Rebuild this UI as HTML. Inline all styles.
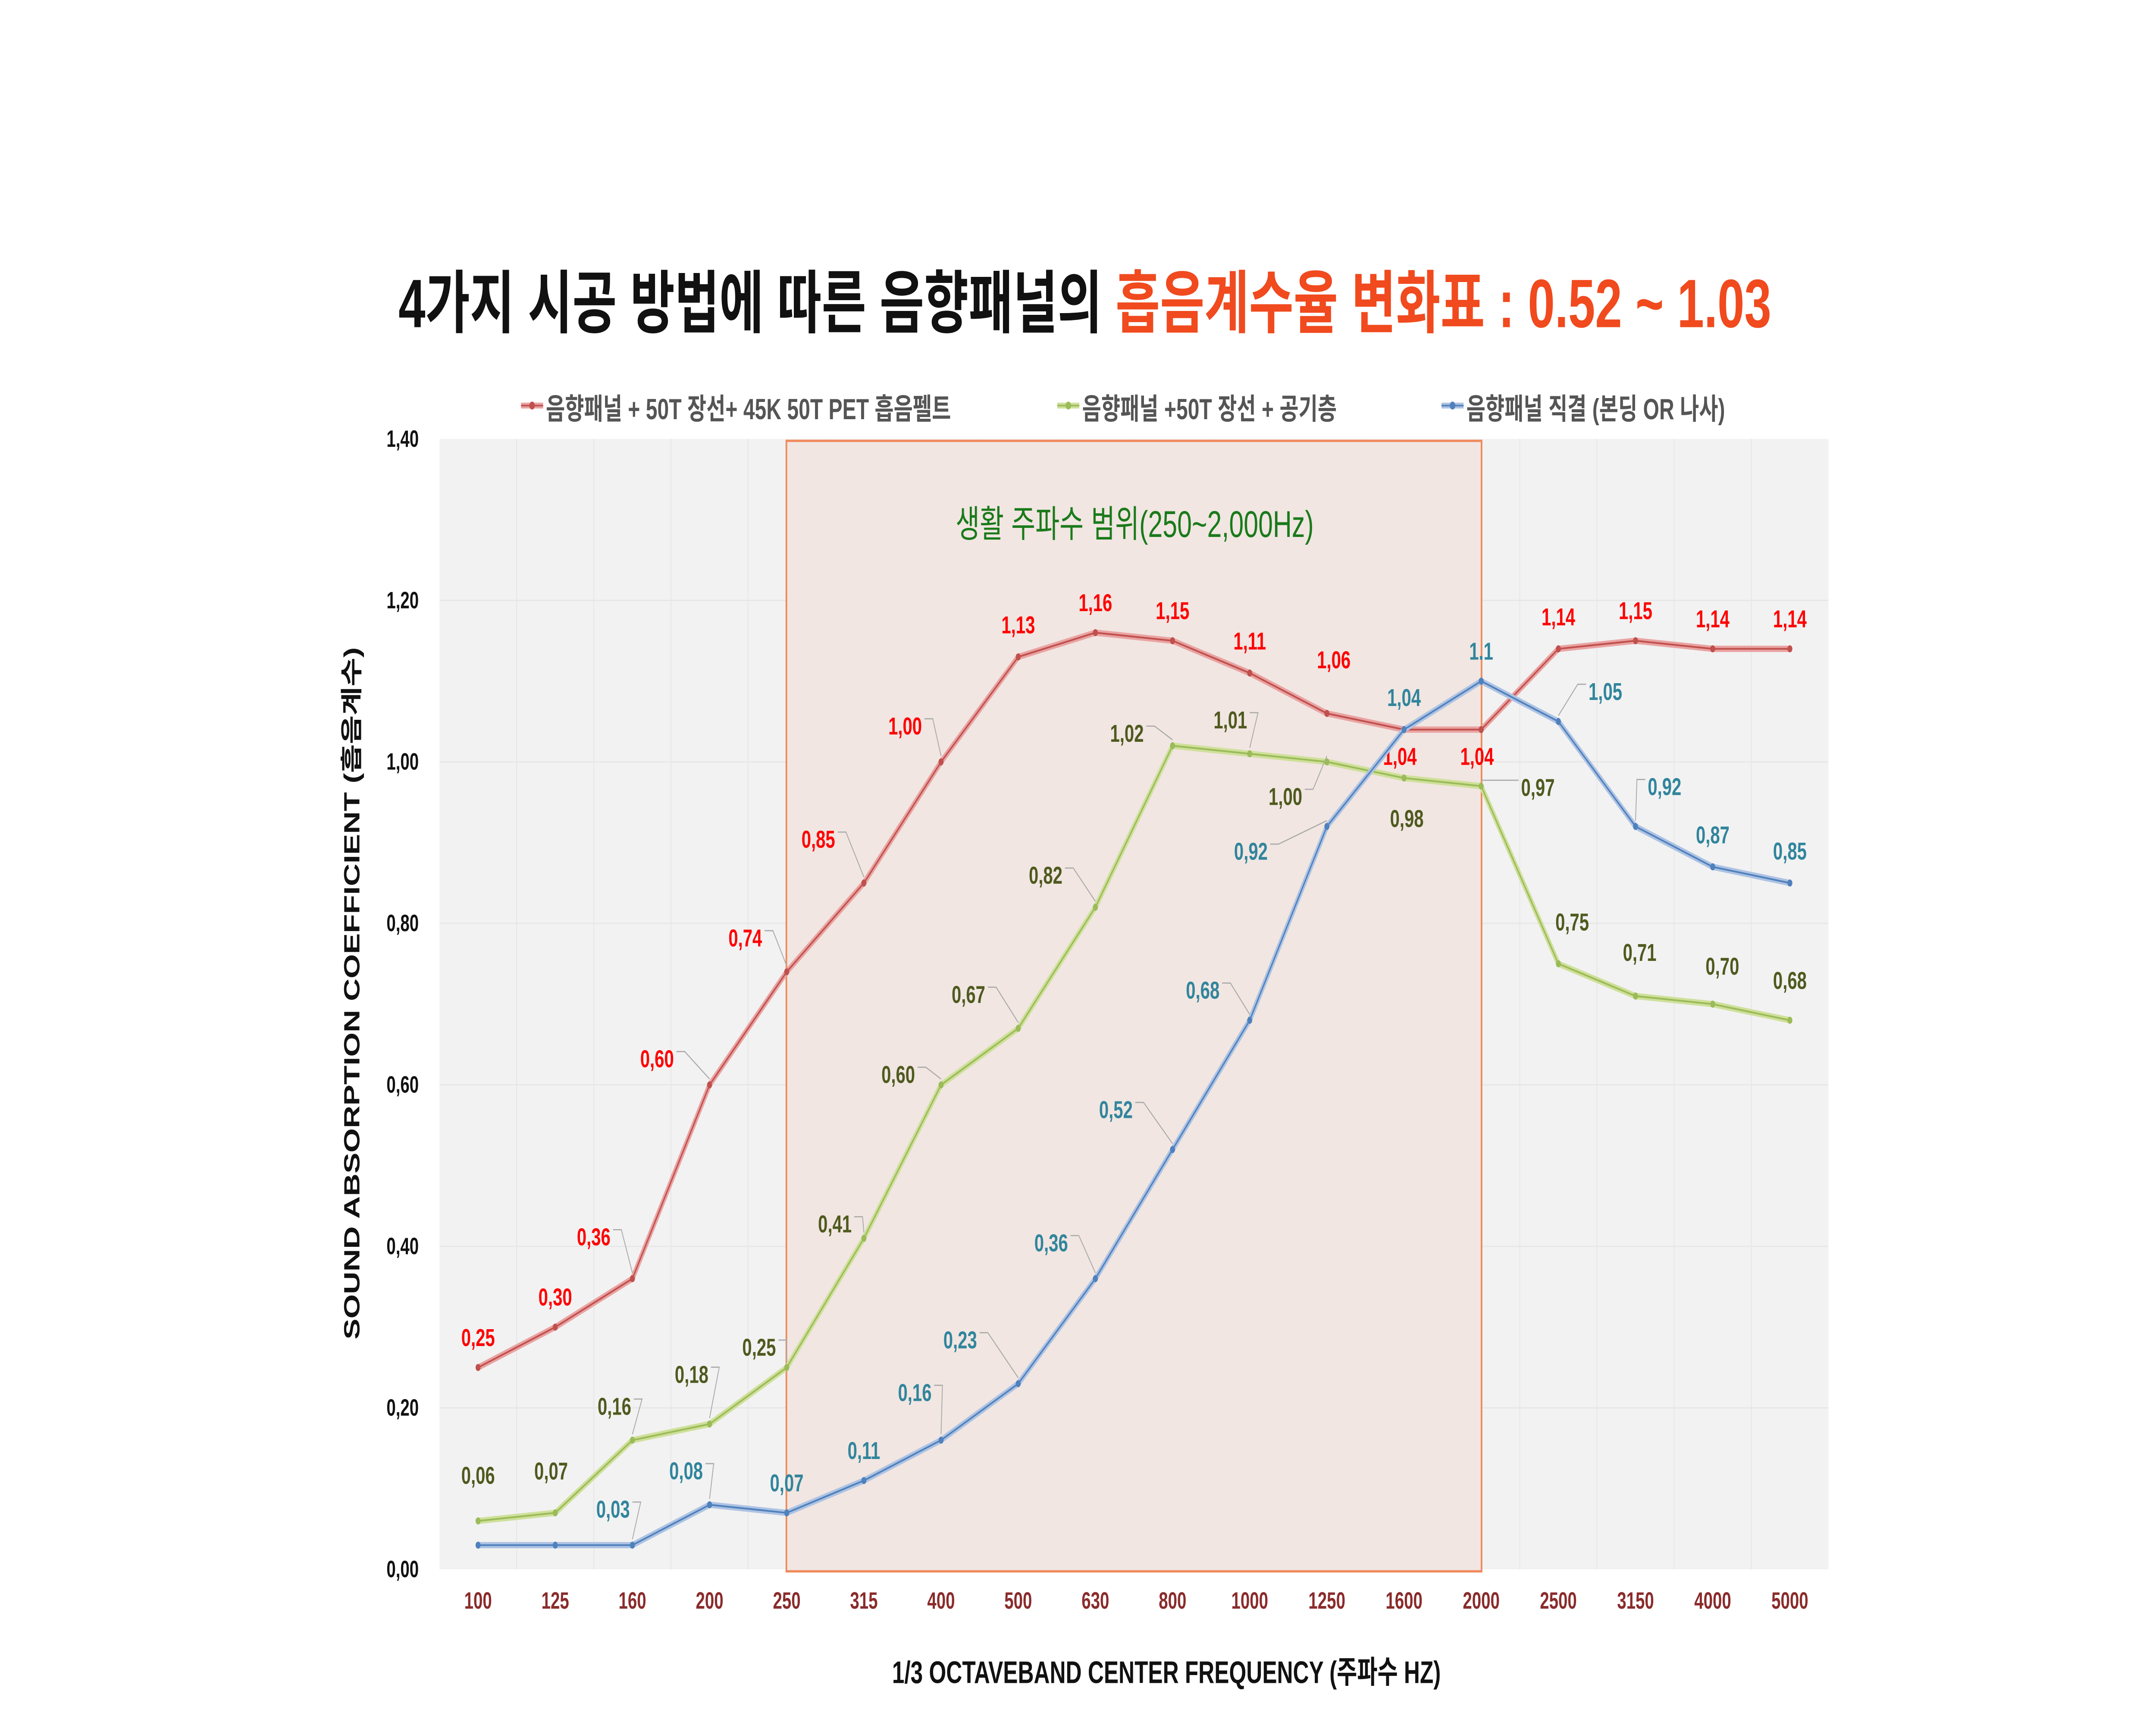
<!DOCTYPE html>
<html><head><meta charset="utf-8"><style>
html,body{margin:0;padding:0;background:#fff;overflow:hidden;width:100%;height:100%;}
svg{display:block;position:absolute;left:0;top:0;width:100vw;height:100vh;}
text{font-family:"Liberation Sans","Noto Sans CJK KR",sans-serif;}
</style></head><body>
<svg id="chart" viewBox="0 0 1560 884" preserveAspectRatio="none" xmlns="http://www.w3.org/2000/svg">
<rect x="0" y="0" width="1560" height="884" fill="#fff"/>
<text x="785" y="167" text-anchor="middle" font-size="35" font-weight="bold" fill="#111">4가지 시공 방법에 따른 음향패널의 <tspan fill="#f04a1e">흡음계수율 변화표 : 0.52 ~ 1.03</tspan></text>
<rect x="318" y="224" width="1005" height="577" fill="#f2f2f2"/>
<g id="grid"></g>
<rect x="569" y="225" width="503" height="577" fill="#f1e6e2" stroke="#f08a5d" stroke-width="1.2"/>
<text x="821" y="274" text-anchor="middle" font-size="19" fill="#1a7a1a">생활 주파수 범위(250~2,000Hz)</text>
<g id="axes"></g>
<g id="series"></g>
<g id="legend"></g>
<text transform="translate(260,507) rotate(-90)" text-anchor="middle" font-size="16" font-weight="bold" fill="#111">SOUND ABSORPTION COEFFICIENT (흡음계수)</text>
<text x="844" y="859" text-anchor="middle" font-size="16" font-weight="bold" fill="#111">1/3 OCTAVEBAND CENTER FREQUENCY (주파수 HZ)</text>
</svg>
<script>
const categories=['100','125','160','200','250','315','400','500','630','800','1000','1250','1600','2000','2500','3150','4000','5000'];
const yTicks=[0,0.2,0.4,0.6,0.8,1.0,1.2,1.4];
const yTickLabels=['0,00','0,20','0,40','0,60','0,80','1,00','1,20','1,40'];
const redValues=[0.25,0.30,0.36,0.60,0.74,0.85,1.00,1.13,1.16,1.15,1.11,1.06,1.04,1.04,1.14,1.15,1.14,1.14];
const greenValues=[0.06,0.07,0.16,0.18,0.25,0.41,0.60,0.67,0.82,1.02,1.01,1.00,0.98,0.97,0.75,0.71,0.70,0.68];
const blueValues=[0.03,0.03,0.03,0.08,0.07,0.11,0.16,0.23,0.36,0.52,0.68,0.92,1.04,1.1,1.05,0.92,0.87,0.85];
const redLabels=['0,25','0,30','0,36','0,60','0,74','0,85','1,00','1,13','1,16','1,15','1,11','1,06','1,04','1,04','1,14','1,15','1,14','1,14'];
const greenLabels=['0,06','0,07','0,16','0,18','0,25','0,41','0,60','0,67','0,82','1,02','1,01','1,00','0,98','0,97','0,75','0,71','0,70','0,68'];
const blueLabels=['','','0,03','0,08','0,07','0,11','0,16','0,23','0,36','0,52','0,68','0,92','1,04','1.1','1,05','0,92','0,87','0,85'];
const seriesNames=['음향패널 + 50T 장선+ 45K 50T PET 흡음펠트','음향패널 +50T 장선 + 공기층','음향패널 직결 (본딩 OR 나사)'];
// label offsets (layout, not data)
const redOff=[[0,-15],[0,-15],[-28,-21],[-38,-13],[-30,-17],[-33,-22],[-26,-18],[0,-16],[0,-15],[0,-15],[0,-16],[5,-27],[-3,14],[-3,14],[0,-16],[0,-15],[0,-15],[0,-15]];
const greenOff=[[0,-23],[-3,-21],[-13,-17],[-13,-25],[-20,-10],[-21,-7],[-31,-5],[-36,-17],[-36,-16],[-33,-6],[-14,-17],[-30,18],[2,21],[41,1],[10,-21],[3,-22],[7,-19],[0,-20]];
const blueOff=[[0,0],[0,0],[-14,-18],[-17,-17],[0,-15],[0,-15],[-19,-24],[-42,-22],[-32,-18],[-41,-20],[-34,-15],[-55,13],[0,-16],[0,-15],[34,-15],[21,-20],[0,-16],[0,-16]];
const NS='http://www.w3.org/2000/svg';
const X0=318,X1=1323,Y0=801,Y1=224;
const step=(X1-X0)/categories.length;
function xPos(i){return X0+step*(i+0.5);}
function yPos(v){return Y0-(v/1.4)*(Y0-Y1);}
function mk(tag,attrs,parent,txt){const e=document.createElementNS(NS,tag);for(const k in attrs)e.setAttribute(k,attrs[k]);if(txt!==undefined)e.textContent=txt;parent.appendChild(e);return e;}
const grid=document.getElementById('grid'),axes=document.getElementById('axes'),ser=document.getElementById('series'),leg=document.getElementById('legend');
for(let i=1;i<categories.length;i++){const l=mk('line',{x1:X0+step*i,x2:X0+step*i,y1:Y1,y2:Y0,stroke:'#e6e6e6','stroke-width':0.6},grid);

}
yTicks.forEach((t,i)=>{if(i>0&&i<yTicks.length-1){const l=mk('line',{x1:X0,x2:X1,y1:yPos(t),y2:yPos(t),stroke:'#e6e6e6','stroke-width':0.6},grid);

}
const tx=mk('text',{x:303,y:yPos(t)+4,'text-anchor':'end','font-size':12,'font-weight':'bold',fill:'#111'},axes,yTickLabels[i]);

});
categories.forEach((c,i)=>{const tx=mk('text',{x:xPos(i),y:821,'text-anchor':'middle','font-size':12,'font-weight':'bold',fill:'#8b2b2b'},axes,c);

});
function drawSeries(vals,labels,offs,outer,inner,lc,name){
const g=mk('g',{},ser);


const pts=vals.map((v,i)=>xPos(i)+','+yPos(v)).join(' ');
mk('polyline',{points:pts,fill:'none',stroke:outer,'stroke-width':3.2},g);
mk('polyline',{points:pts,fill:'none',stroke:inner,'stroke-width':0.9},g);
vals.forEach((v,i)=>{const c=mk('circle',{cx:xPos(i),cy:yPos(v),r:1.8,fill:inner},g);


if(!labels[i])return;
const lx=xPos(i)+offs[i][0],ly=yPos(v)+offs[i][1];
if(Math.abs(offs[i][0])>10){mk('polyline',{points:(lx+(offs[i][0]<0?14:-14))+','+(ly-4)+' '+(lx+(offs[i][0]<0?20:-20))+','+(ly-4)+' '+xPos(i)+','+(yPos(v)-3),fill:'none',stroke:'#aaa','stroke-width':0.6},g);}
const t=mk('text',{x:lx,y:ly+4,'text-anchor':'middle','font-size':12.5,'font-weight':'bold',fill:lc},g,labels[i]);

});}
drawSeries(redValues,redLabels,redOff,'#e9a3a2','#c0504d','#ff0000','series-pet-felt');
drawSeries(greenValues,greenLabels,greenOff,'#cfe09a','#9bbb59','#4f5a1f','series-air-layer');
drawSeries(blueValues,blueLabels,blueOff,'#aec3e3','#4f81bd','#31859c','series-direct');
const legX=[377,765,1043],legC=[['#e9a3a2','#c0504d'],['#cfe09a','#9bbb59'],['#aec3e3','#4f81bd']];
seriesNames.forEach((n,i)=>{const g=mk('g',{},leg);


mk('line',{x1:legX[i],x2:legX[i]+16,y1:207,y2:207,stroke:legC[i][0],'stroke-width':3},g);
mk('line',{x1:legX[i],x2:legX[i]+16,y1:207,y2:207,stroke:legC[i][1],'stroke-width':0.8},g);
mk('circle',{cx:legX[i]+8,cy:207,r:2,fill:legC[i][1]},g);
mk('text',{x:legX[i]+18,y:214,'font-size':15,fill:'#555','font-weight':'bold'},g,n);});
</script>
</body></html>
